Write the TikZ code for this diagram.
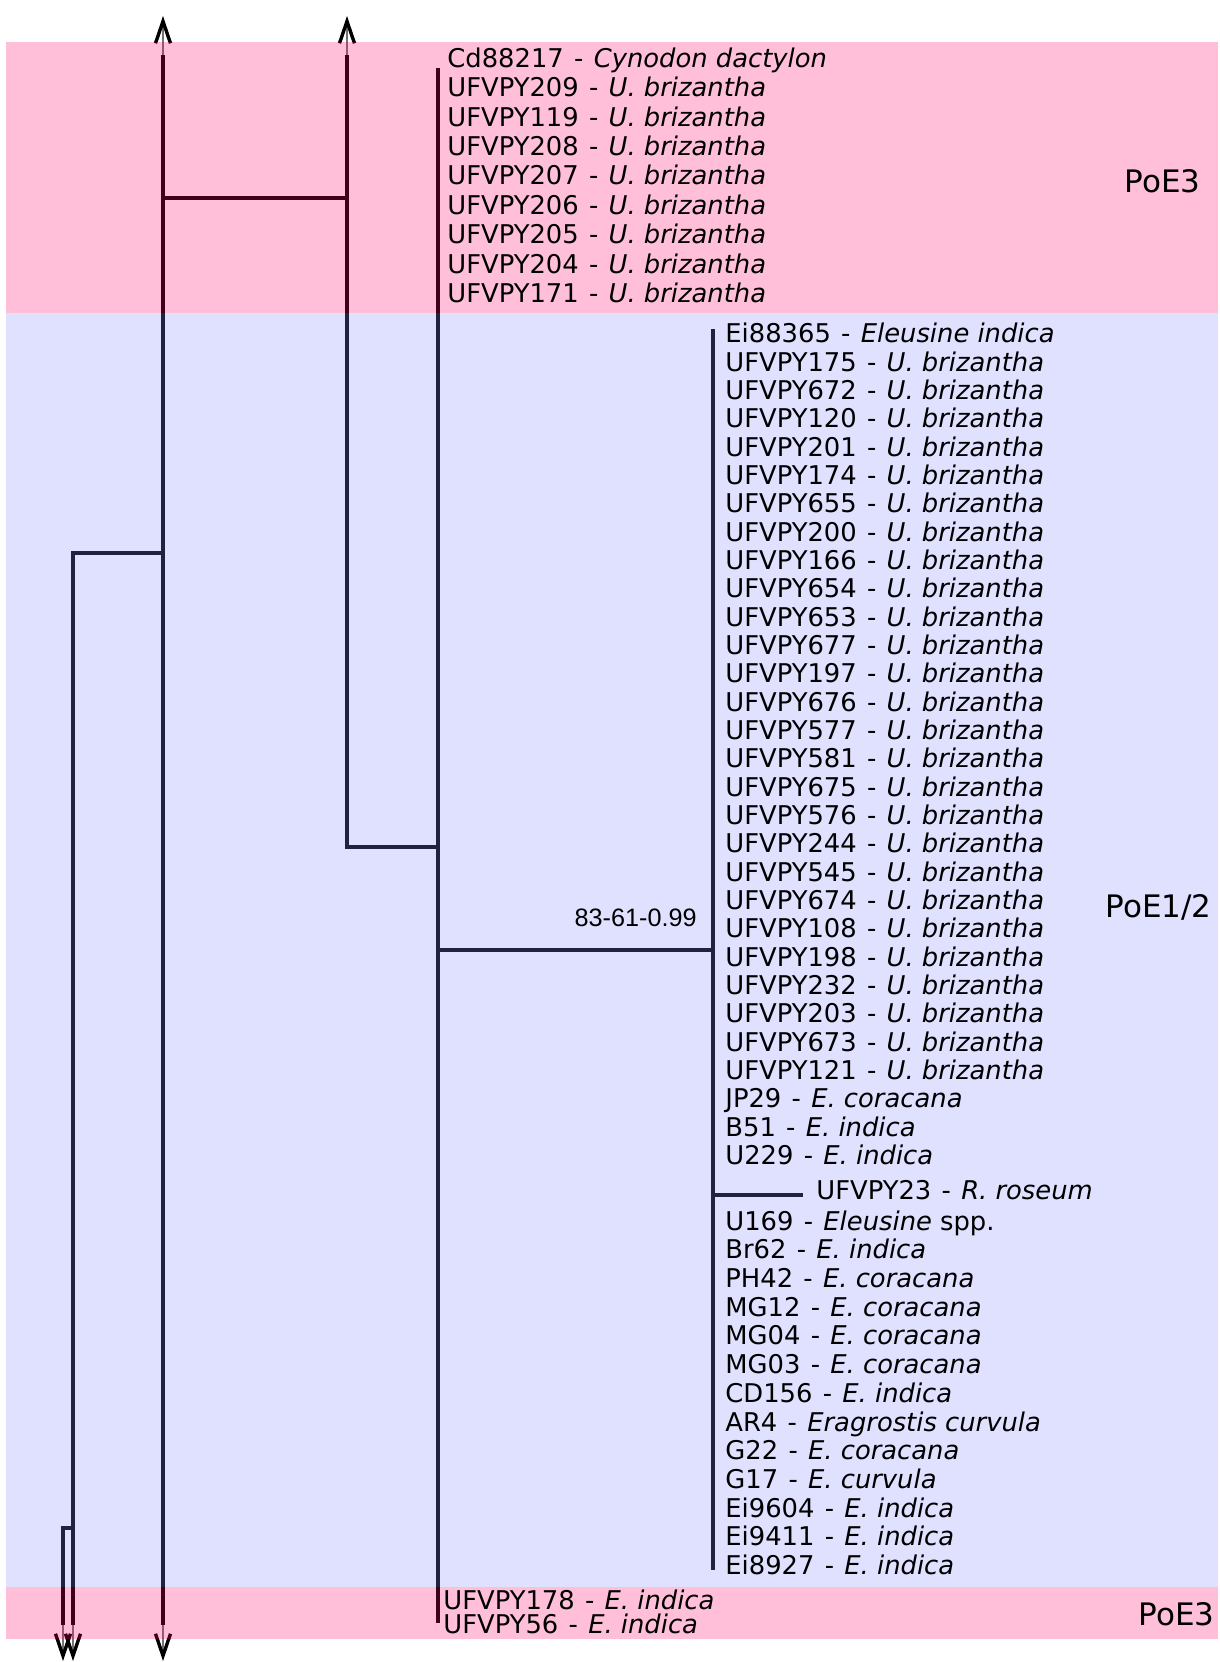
\documentclass[tikz,border=0pt]{standalone}
\usepackage{fontspec}
\setmainfont{DejaVu Sans}[ItalicFont={DejaVu Sans Oblique}]
\newfontfamily\arialfont{Liberation Sans}
\usetikzlibrary{arrows.meta}
\definecolor{bandpink}{RGB}{255,0,100}
\definecolor{bandblue}{RGB}{132,132,255}
\newcommand{\sepd}{\hspace{0.352em}\makebox[0.455em]{-}\hspace{0.352em}}
\begin{document}
\begin{tikzpicture}[x=0.5pt,y=-0.5pt,
  branch/.style={line width=1.7pt, line cap=butt, black},
  shaft/.style={line width=0.7pt, black!55,
    -{Straight Barb[length=11pt,width=7.5pt,line width=1.7pt,color=black]}},
  band/.style={opacity=0.25},
  leaf/.style={anchor=base west, inner sep=0pt, font=\fontsize{12.9}{14}\selectfont},
  clade/.style={anchor=base east, inner sep=0pt, font=\fontsize{15.5}{18}\selectfont},
  support/.style={anchor=base east, inner sep=0pt, font=\arialfont\fontsize{12.6}{14}\selectfont},
  ]
\useasboundingbox (0,0) rectangle (1220,1662);

% ---- tree coordinates
\coordinate (tA) at (163,16);   \coordinate (tB) at (347,16);
\coordinate (a0) at (163,55);   \coordinate (b0) at (347,55);
\coordinate (a1) at (163,198);  \coordinate (b1) at (347,198);
\coordinate (b2) at (347,847);  \coordinate (c2) at (438,847);
\coordinate (c0) at (438,68);   \coordinate (c3) at (438,950);
\coordinate (c9) at (438,1623);
\coordinate (d0) at (713,329);  \coordinate (d3) at (713,950);
\coordinate (d5) at (713,1195); \coordinate (e5) at (803,1195);
\coordinate (d9) at (713,1570);
\coordinate (r5) at (73,553);   \coordinate (a5) at (163,553);
\coordinate (q8) at (63,1528);  \coordinate (r8) at (73,1528);
\coordinate (q9) at (63,1625);  \coordinate (r9) at (73,1625);
\coordinate (a9) at (163,1625);
\coordinate (qT) at (63,1661);  \coordinate (rT) at (73,1661);
\coordinate (aT) at (163,1661);

% ---- branches
\draw[branch] (a0) -- (a9);
\draw[branch] (b0) -- (b2) -- (c2);
\draw[branch] (a1) -- (b1);
\draw[branch] (c0) -- (c9);
\draw[branch] (c3) -- (d3);
\draw[branch] (d0) -- (d9);
\draw[branch] (d5) -- (e5);
\draw[branch] (a5) -- (r5) -- (r9);
\draw[branch] (r8) -- (q8) -- (q9);

% ---- arrows (truncated branches)
\draw[shaft] (a0) -- (tA);
\draw[shaft] (b0) -- (tB);
\draw[shaft] (a9) -- (aT);
\draw[shaft] (r9) -- (rT);
\draw[shaft] (q9) -- (qT);

% ---- coloured bands
\fill[bandpink, band] (6,42) rectangle (1218,313);
\fill[bandblue, band] (6,313) rectangle (1218,1587);
\fill[bandpink, band] (6,1587) rectangle (1218,1639);

% ---- labels: PoE3 (top)
\foreach \lab [count=\i from 0] in {
  {Cd88217\sepd\textit{Cynodon dactylon}},
  {UFVPY209\sepd\textit{U. brizantha}},
  {UFVPY119\sepd\textit{U. brizantha}},
  {UFVPY208\sepd\textit{U. brizantha}},
  {UFVPY207\sepd\textit{U. brizantha}},
  {UFVPY206\sepd\textit{U. brizantha}},
  {UFVPY205\sepd\textit{U. brizantha}},
  {UFVPY204\sepd\textit{U. brizantha}},
  {UFVPY171\sepd\textit{U. brizantha}}}
  \node[leaf] (top\i) at (447,{67.3+\i*29.4}) {\lab};

% ---- labels: PoE1/2
\foreach \lab [count=\i from 0] in {
  {Ei88365\sepd\textit{Eleusine indica}},
  {UFVPY175\sepd\textit{U. brizantha}},
  {UFVPY672\sepd\textit{U. brizantha}},
  {UFVPY120\sepd\textit{U. brizantha}},
  {UFVPY201\sepd\textit{U. brizantha}},
  {UFVPY174\sepd\textit{U. brizantha}},
  {UFVPY655\sepd\textit{U. brizantha}},
  {UFVPY200\sepd\textit{U. brizantha}},
  {UFVPY166\sepd\textit{U. brizantha}},
  {UFVPY654\sepd\textit{U. brizantha}},
  {UFVPY653\sepd\textit{U. brizantha}},
  {UFVPY677\sepd\textit{U. brizantha}},
  {UFVPY197\sepd\textit{U. brizantha}},
  {UFVPY676\sepd\textit{U. brizantha}},
  {UFVPY577\sepd\textit{U. brizantha}},
  {UFVPY581\sepd\textit{U. brizantha}},
  {UFVPY675\sepd\textit{U. brizantha}},
  {UFVPY576\sepd\textit{U. brizantha}},
  {UFVPY244\sepd\textit{U. brizantha}},
  {UFVPY545\sepd\textit{U. brizantha}},
  {UFVPY674\sepd\textit{U. brizantha}},
  {UFVPY108\sepd\textit{U. brizantha}},
  {UFVPY198\sepd\textit{U. brizantha}},
  {UFVPY232\sepd\textit{U. brizantha}},
  {UFVPY203\sepd\textit{U. brizantha}},
  {UFVPY673\sepd\textit{U. brizantha}},
  {UFVPY121\sepd\textit{U. brizantha}},
  {JP29\sepd\textit{E. coracana}},
  {B51\sepd\textit{E. indica}},
  {U229\sepd\textit{E. indica}}}
  \node[leaf] (mid\i) at (725,{342.9+\i*28.33}) {\lab};

\node[leaf] (rro) at (816,1199.3) {UFVPY23\sepd\textit{R. roseum}};

\foreach \lab [count=\i from 0] in {
  {U169\sepd\textit{Eleusine} spp.},
  {Br62\sepd\textit{E. indica}},
  {PH42\sepd\textit{E. coracana}},
  {MG12\sepd\textit{E. coracana}},
  {MG04\sepd\textit{E. coracana}},
  {MG03\sepd\textit{E. coracana}},
  {CD156\sepd\textit{E. indica}},
  {AR4\sepd\textit{Eragrostis curvula}},
  {G22\sepd\textit{E. coracana}},
  {G17\sepd\textit{E. curvula}},
  {Ei9604\sepd\textit{E. indica}},
  {Ei9411\sepd\textit{E. indica}},
  {Ei8927\sepd\textit{E. indica}}}
  \node[leaf] (low\i) at (725,{1230.1+\i*28.71}) {\lab};

% ---- labels: PoE3 (bottom)
\node[leaf] (bot0) at (443,1609) {UFVPY178\sepd\textit{E. indica}};
\node[leaf] (bot1) at (443,1633) {UFVPY56\sepd\textit{E. indica}};

% ---- support value
\node[support] (supp) at (697,926) {83-61-0.99};

% ---- clade names
\node[clade] (poe3a) at (1201,192.5) {PoE3};
\node[clade] (poe12) at (1212,917.5) {PoE1/2};
\node[clade] (poe3b) at (1215,1625.5) {PoE3};
\end{tikzpicture}
\end{document}
